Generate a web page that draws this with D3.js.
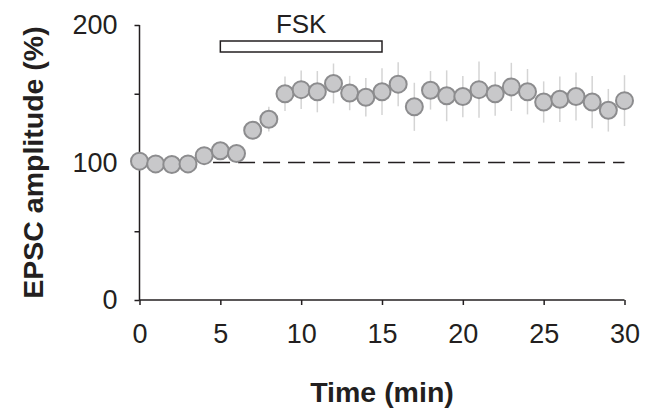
<html>
<head>
<meta charset="utf-8">
<style>
  body { margin: 0; background: #fff; }
  text { font-family: Arial, "Liberation Sans", sans-serif; fill: #231f20; }
</style>
</head>
<body>
<div id="plot"></div>
<script src="https://d3js.org/d3.v7.min.js"></script>
<script type="text/javascript">
// data (EPSC amplitude, % of baseline)
var times = d3.range(0, 31);
var amplitude = [101, 99, 98.5, 99, 105, 108.5, 106.5, 123.5, 131.5, 150, 153, 151.5, 157.5, 150.5, 147.5,
                 151.5, 157, 140.5, 152.5, 148.5, 148, 153, 150, 155, 151.5, 144, 146, 148, 144, 138, 145];
var sem = [3, 3, 3, 3, 4, 4, 4, 6, 9, 12.5, 14, 15, 14.5, 12.5, 14,
           17, 16, 17.5, 14, 18.5, 15, 20.5, 16, 17.5, 16.5, 15, 16.5, 17.5, 19, 15.5, 18.5];
var xTicks = [0, 5, 10, 15, 20, 25, 30];
var yTicks = [0, 50, 100, 150, 200];
var yLabelled = [0, 100, 200];
var drugName = "FSK";
var drugStart = 5, drugEnd = 15;
var baselineFrom = 4.55;

var W = 646, H = 416;
var svg = d3.select("#plot").append("svg")
    .attr("width", W).attr("height", H);

var x = d3.scaleLinear().domain([0, 30]).range([139.5, 624.5]);
var y = d3.scaleLinear().domain([0, 200]).range([300, 25]);

var fontStack = "Arial, 'Liberation Sans', sans-serif";

// x axis
var xAxis = svg.append("g")
    .attr("transform", "translate(0," + y(0) + ")")
    .call(d3.axisBottom(x).tickValues(xTicks).tickSize(5).tickPadding(19));
xAxis.select(".domain").attr("d", "M" + x(0) + ",0H" + x(30))
    .attr("stroke", "#231f20").attr("stroke-width", 1.5);
xAxis.selectAll(".tick line").attr("stroke", "#231f20").attr("stroke-width", 1.5);
xAxis.selectAll(".tick text").style("font-size", "27px").attr("fill", "#231f20")
    .style("font-family", fontStack);

// y axis
var yAxis = svg.append("g")
    .attr("transform", "translate(" + x(0) + ",0)")
    .call(d3.axisLeft(y).tickValues(yTicks).tickSize(5).tickPadding(17)
        .tickFormat(function(d){ return yLabelled.indexOf(d) >= 0 ? d : ""; }));
yAxis.select(".domain").attr("d", "M0," + y(0) + "V" + y(200))
    .attr("stroke", "#231f20").attr("stroke-width", 1.5);
yAxis.selectAll(".tick line").attr("stroke", "#231f20").attr("stroke-width", 1.5);
yAxis.selectAll(".tick text").style("font-size", "27px").attr("fill", "#231f20")
    .style("font-family", fontStack);

// baseline dashed line
svg.append("line")
    .attr("x1", x(baselineFrom)).attr("x2", x(30))
    .attr("y1", y(100)).attr("y2", y(100))
    .attr("stroke", "#231f20").attr("stroke-width", 1.5)
    .attr("stroke-dasharray", "17,8");

// drug bar
svg.append("rect")
    .attr("x", x(drugStart)).attr("y", 41)
    .attr("width", x(drugEnd) - x(drugStart)).attr("height", 11)
    .attr("fill", "#fff").attr("stroke", "#231f20").attr("stroke-width", 1.5);
svg.append("text")
    .attr("x", (x(drugStart) + x(drugEnd)) / 2).attr("y", 32.5)
    .attr("text-anchor", "middle").style("font-size", "26px")
    .text(drugName);

var pts = times.map(function(t, i){ return {t: t, v: amplitude[i], e: sem[i]}; });

// error bars
svg.append("g").selectAll("line")
    .data(pts).enter().append("line")
    .attr("x1", function(d){ return x(d.t); })
    .attr("x2", function(d){ return x(d.t); })
    .attr("y1", function(d){ return y(d.v + d.e); })
    .attr("y2", function(d){ return y(d.v - d.e); })
    .attr("stroke", "#d4d4d4").attr("stroke-width", 1.5);

// points
svg.append("g").selectAll("circle")
    .data(pts).enter().append("circle")
    .attr("cx", function(d){ return x(d.t); })
    .attr("cy", function(d){ return y(d.v); })
    .attr("r", 8.5)
    .attr("fill", "#c8c8ca").attr("stroke", "#8c8c8e").attr("stroke-width", 2);

// labels
svg.append("text")
    .attr("x", 382).attr("y", 402)
    .attr("text-anchor", "middle").style("font-size", "28.5px").style("font-weight", "bold")
    .text("Time (min)");

svg.append("text")
    .attr("transform", "translate(43," + 162.5 + ") rotate(-90)")
    .attr("text-anchor", "middle").style("font-size", "28.5px").style("font-weight", "bold")
    .text("EPSC amplitude (%)");
</script>
</body>
</html>
